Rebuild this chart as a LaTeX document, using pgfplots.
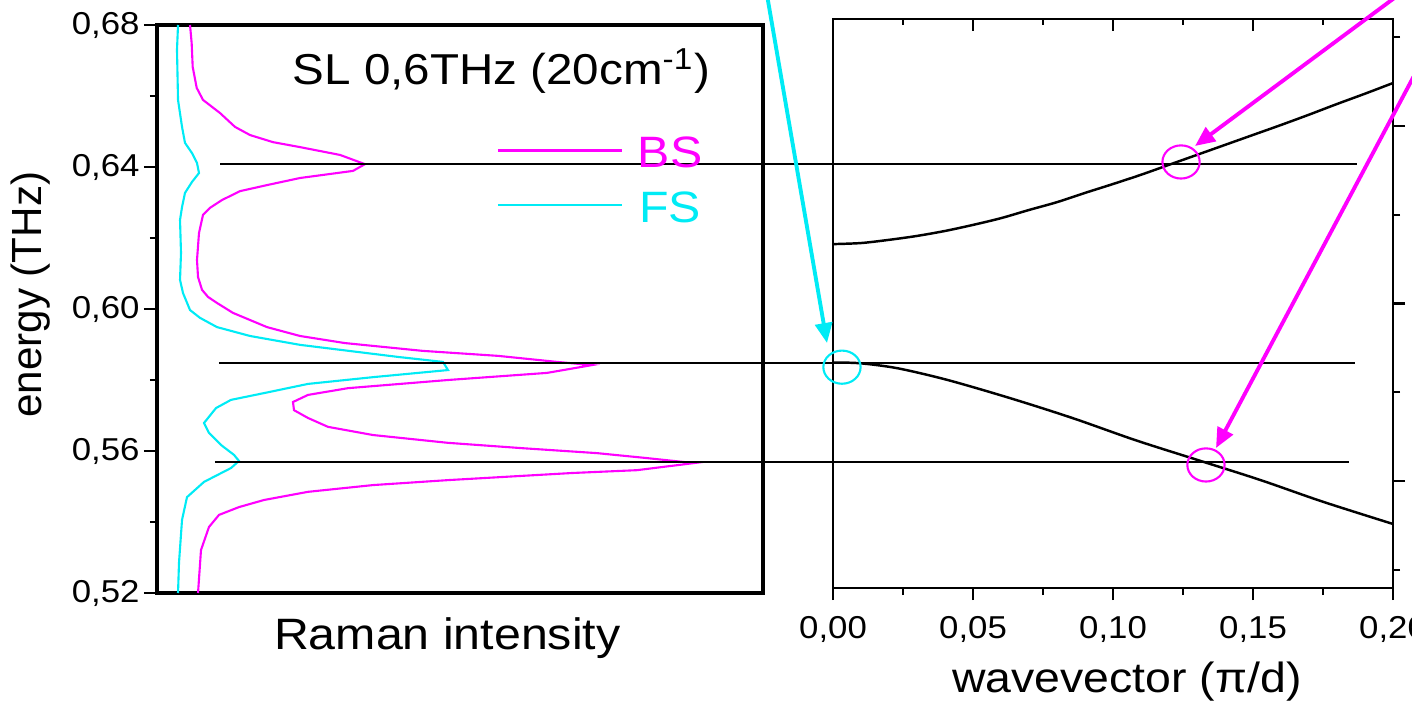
\documentclass[border=0pt]{standalone}
\usepackage{pgfplots}
\pgfplotsset{compat=1.18}
\usetikzlibrary{arrows.meta}
\usepackage{fontspec}
\setmainfont{Liberation Sans}[FakeStretch=1.1]
\newfontfamily\plainsans{Liberation Sans}
\definecolor{mag}{RGB}{255,0,255}
\definecolor{cya}{RGB}{0,235,245}

\pgfplotstableread{
x y
0.0545 0.6800
0.0572 0.6749
0.0589 0.6682
0.0655 0.6623
0.0759 0.6589
0.1040 0.6552
0.1287 0.6513
0.1535 0.6490
0.1914 0.6470
0.2360 0.6456
0.3020 0.6434
0.3432 0.6408
0.3234 0.6389
0.2360 0.6369
0.1815 0.6349
0.1370 0.6332
0.1073 0.6307
0.0875 0.6285
0.0759 0.6265
0.0693 0.6214
0.0660 0.6138
0.0677 0.6090
0.0743 0.6054
0.0842 0.6034
0.0990 0.6017
0.1254 0.5989
0.1815 0.5949
0.2360 0.5924
0.3102 0.5904
0.4389 0.5882
0.5627 0.5868
0.6601 0.5851
0.7178 0.5842
0.6436 0.5820
0.4802 0.5800
0.3152 0.5777
0.2492 0.5758
0.2244 0.5738
0.2261 0.5715
0.2492 0.5693
0.2822 0.5668
0.3564 0.5645
0.4802 0.5623
0.6023 0.5608
0.7261 0.5594
0.8086 0.5580
0.8861 0.5566
0.7921 0.5546
0.6848 0.5538
0.4802 0.5518
0.3564 0.5504
0.2492 0.5485
0.1766 0.5462
0.1353 0.5442
0.1023 0.5420
0.0858 0.5386
0.0726 0.5321
0.0677 0.5200
}\bsdata

\pgfplotstableread{
x y
0.0347 0.6800
0.0330 0.6730
0.0347 0.6589
0.0413 0.6513
0.0462 0.6468
0.0578 0.6439
0.0660 0.6411
0.0693 0.6383
0.0578 0.6358
0.0462 0.6327
0.0413 0.6287
0.0380 0.6251
0.0396 0.6158
0.0380 0.6082
0.0429 0.6045
0.0545 0.5997
0.0710 0.5975
0.0990 0.5949
0.1535 0.5924
0.2360 0.5899
0.3977 0.5865
0.4719 0.5851
0.4802 0.5828
0.3564 0.5808
0.2492 0.5789
0.1848 0.5766
0.1221 0.5744
0.0974 0.5721
0.0776 0.5679
0.0858 0.5651
0.1056 0.5617
0.1271 0.5589
0.1353 0.5572
0.1221 0.5552
0.0776 0.5513
0.0495 0.5470
0.0413 0.5406
0.0363 0.5285
0.0347 0.5200
}\fsdata

\pgfplotstableread{
x y
0.00 0.6167
0.01 0.6170
0.02 0.6179
0.03 0.6190
0.04 0.6204
0.05 0.6221
0.06 0.6240
0.07 0.6263
0.08 0.6285
0.09 0.6311
0.10 0.6336
0.11 0.6362
0.12 0.6390
0.13 0.6418
0.14 0.6446
0.15 0.6474
0.16 0.6502
0.17 0.6531
0.18 0.6561
0.19 0.6590
0.20 0.6620
}\upperbranch

\pgfplotstableread{
x y
0.0000 0.5834
0.0096 0.5832
0.0230 0.5818
0.0409 0.5785
0.0632 0.5734
0.0855 0.5678
0.1079 0.5616
0.1302 0.5560
0.1525 0.5504
0.1748 0.5443
0.2000 0.5380
}\lowerbranch

\begin{document}
\begin{tikzpicture}
\path[use as bounding box] (0,0) rectangle (14.12,7.04);
\clip (0,0) rectangle (14.12,7.04);

% ---------------- left panel: Raman spectra ----------------
\begin{axis}[
  at={(1.57cm,1.11cm)}, anchor=south west,
  width=6.06cm, height=5.68cm, scale only axis,
  xmin=0, xmax=1, ymin=0.52, ymax=0.68,
  clip=false,
  axis line style={line width=0.9pt},
  xtick=\empty,
  ytick={0.52,0.56,0.60,0.64,0.68},
  minor ytick={0.54,0.58,0.62,0.66},
  ytick pos=left, tick align=outside,
  major tick length=0.13cm, minor tick length=0.07cm,
  tick style={black, line width=0.8pt},
  yticklabel style={font=\fontsize{9}{10}\selectfont, xshift=0.08cm,
    /pgf/number format/.cd, use comma, fixed, fixed zerofill, precision=2, assume math mode=true},
  xlabel={Raman intensity},
  xlabel style={at={(axis description cs:0.479,-0.0986)}, anchor=base,
    font=\fontsize{12.5}{14}\selectfont},
  ylabel={\plainsans energy (THz)},
  ylabel style={at={(axis description cs:-0.1914,0.525)}, anchor=base,
    font=\fontsize{12}{14}\selectfont},
  legend style={draw=none, fill=none, inner sep=0pt,
    at={(axis description cs:0.5594,0.8063)}, anchor=north west,
    font=\fontsize{12.5}{14}\selectfont,
    nodes={inner sep=0pt, text height=9pt, text depth=0pt},
    row sep=6.6pt,
    /tikz/every odd column/.append style={column sep=0.15cm}},
  legend image code/.code={\draw[#1] (0cm,0.01cm) -- (1.24cm,0.01cm);},
]
\addplot[mag, line width=0.6pt] table {\bsdata};
\addlegendentry{\textcolor{mag}{BS}}
\addplot[cya, line width=0.6pt] table {\fsdata};
\addlegendentry{\textcolor{cya}{FS}}
\addplot[black, line width=0.55pt, forget plot] coordinates {(0.104,0.6408) (1.980,0.6408)};
\addplot[black, line width=0.55pt, forget plot] coordinates {(0.102,0.5849) (1.977,0.5849)};
\addplot[black, line width=0.55pt, forget plot] coordinates {(0.0957,0.5569) (1.967,0.5569)};
\node[anchor=base west, inner sep=0pt, font=\fontsize{12.3}{14}\selectfont]
  at (axis description cs:0.2228,0.8944) {SL 0,6THz (20cm\textsuperscript{-1})};
\end{axis}

% ---------------- right panel: dispersion ----------------
\begin{axis}[
  at={(8.33cm,1.16cm)}, anchor=south west,
  width=5.60cm, height=5.69cm, scale only axis,
  xmin=0, xmax=0.2, ymin=0.52, ymax=0.68,
  clip=false,
  axis line style={line width=0.6pt},
  xtick={0,0.05,0.10,0.15,0.20},
  minor xtick={0.025,0.075,0.125,0.175},
  ytick={0.55,0.60,0.65},
  minor ytick={0.525,0.575,0.625,0.675},
  yticklabels={},
  xtick pos=left, ytick pos=right, tick align=outside,
  major tick length=0.12cm, minor tick length=0.07cm,
  tick style={black, line width=0.6pt},
  xticklabel style={font=\fontsize{9}{10}\selectfont, yshift=-0.04cm,
    /pgf/number format/.cd, use comma, fixed, fixed zerofill, precision=2, assume math mode=true},
  xlabel={wavevector (π/d)},
  xlabel style={at={(axis description cs:0.525,-0.1845)}, anchor=base,
    font=\fontsize{12}{14}\selectfont},
]
\addplot[black, line width=0.7pt, smooth] table {\upperbranch};
\addplot[black, line width=0.7pt, smooth] table {\lowerbranch};
\addplot[only marks, mark=o, mark size=5.3pt, color=cya,
  mark options={line width=0.6pt, yscale=0.89}] coordinates {(0.0032,0.5821)};
\addplot[only marks, mark=o, mark size=5.3pt, color=mag,
  mark options={line width=0.6pt, yscale=0.89}] coordinates {(0.1243,0.6398) (0.1332,0.5546)};
\end{axis}
% top ticks of the right panel, pointing inwards
\begin{axis}[
  at={(8.33cm,1.16cm)}, anchor=south west,
  width=5.60cm, height=5.69cm, scale only axis,
  xmin=0, xmax=0.2, ymin=0.52, ymax=0.68,
  axis x line*=top, hide y axis,
  axis line style={line width=0.6pt},
  xtick={0,0.05,0.10,0.15,0.20},
  minor xtick={0.025,0.075,0.125,0.175},
  xticklabels={}, tick align=inside,
  major tick length=0.12cm, minor tick length=0.06cm,
  tick style={black, line width=0.6pt},
]
\addplot[draw=none] coordinates {(0,0.6)};
\end{axis}

% annotation arrows
\draw[cya, line width=1.1pt, -{Triangle[length=0.2cm,width=0.17cm]}] (7.62,7.38) -- (8.27,3.61);
\draw[mag, line width=1.1pt, -{Triangle[length=0.2cm,width=0.17cm]}] (14.32,7.34) -- (11.95,5.58);
\draw[mag, line width=1.1pt, -{Triangle[length=0.2cm,width=0.17cm]}] (14.40,6.77) -- (12.16,2.56);
\end{tikzpicture}
\end{document}
